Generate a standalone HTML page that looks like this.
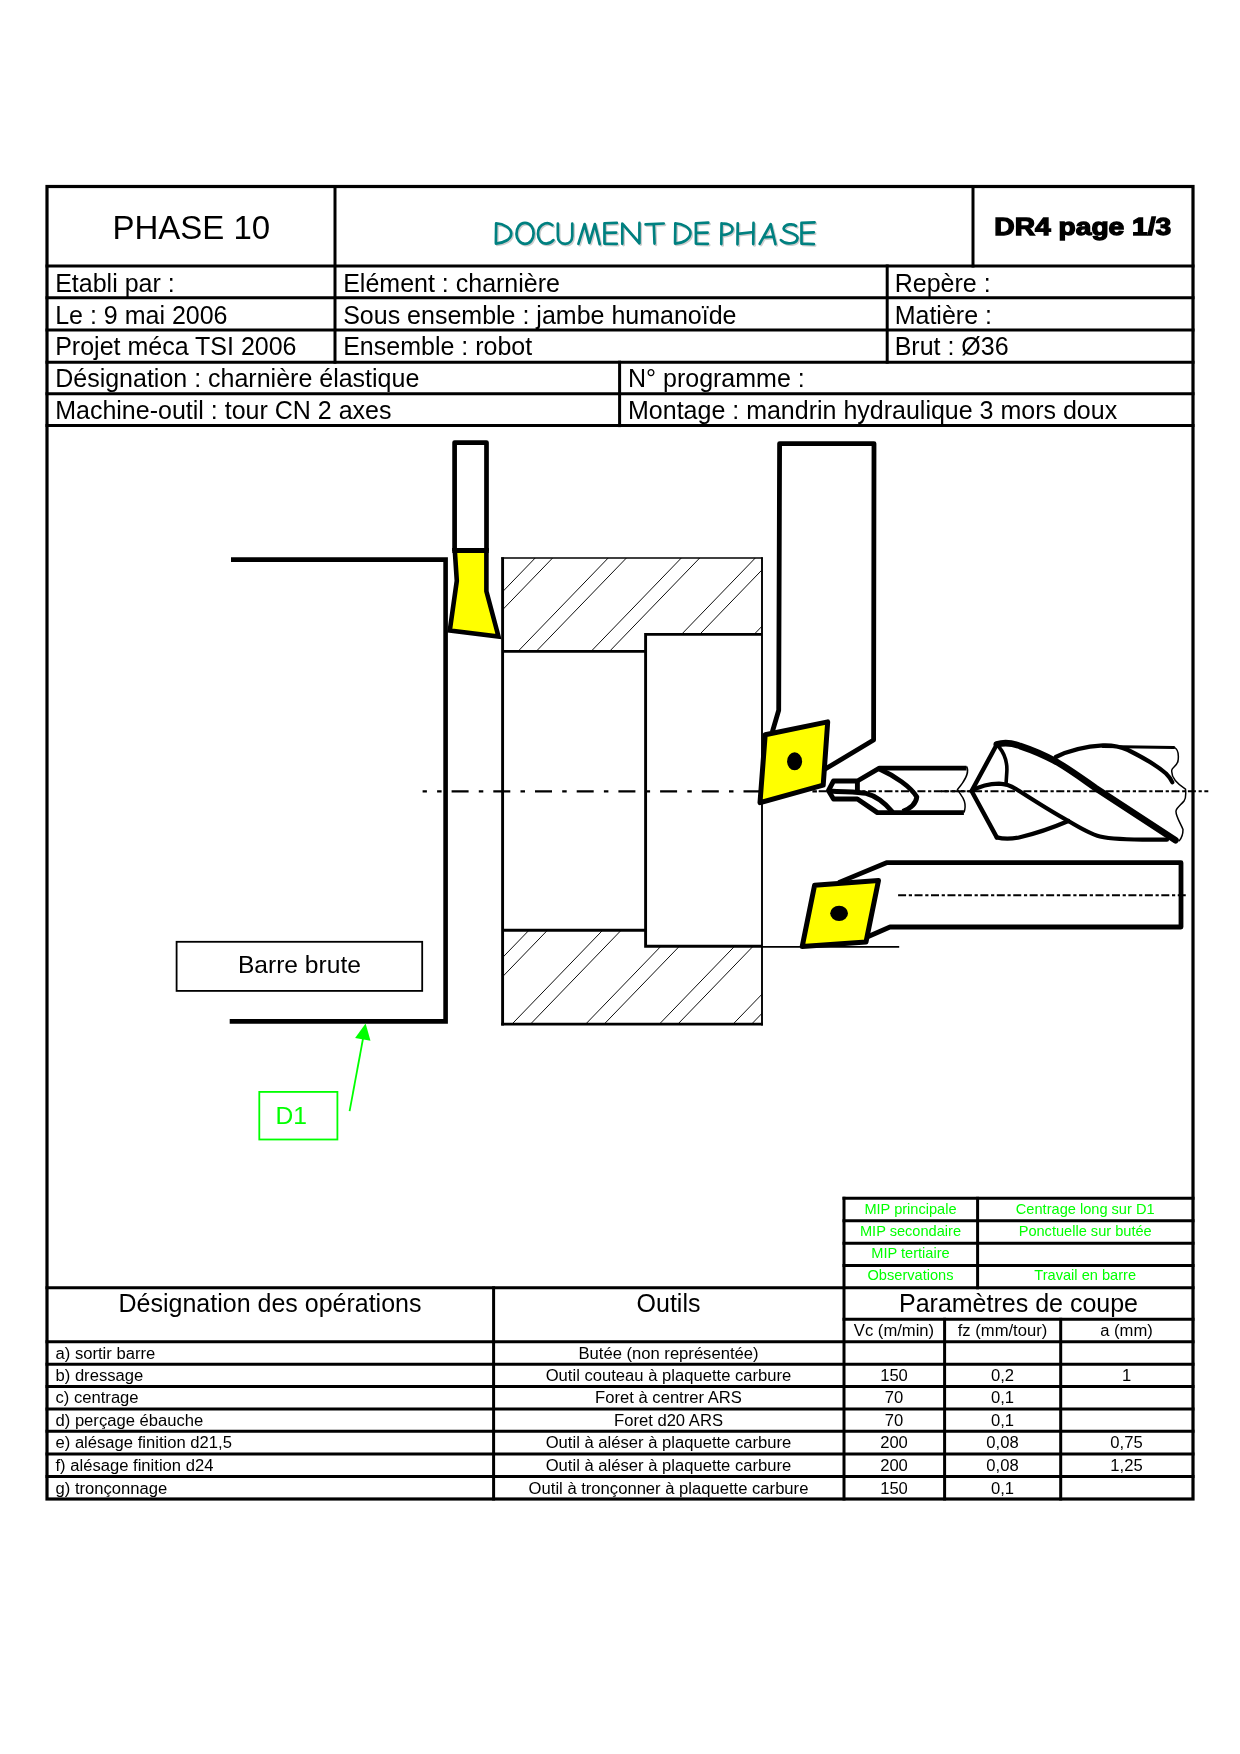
<!DOCTYPE html>
<html><head><meta charset="utf-8"><title>Document de phase</title>
<style>
html,body{margin:0;padding:0;background:#fff;}
body{width:1240px;height:1754px;overflow:hidden;font-family:"Liberation Sans",sans-serif;}
svg{will-change:transform;display:block;position:absolute;left:0;top:0;}
text{font-family:"Liberation Sans",sans-serif;}
</style></head><body>
<svg width="1240" height="1754" viewBox="0 0 1240 1754">
<rect x="0" y="0" width="1240" height="1754" fill="#ffffff"/>

<g id="frame" stroke-linecap="square">
<rect x="47.0" y="186.5" width="1146.0" height="1312.5" fill="none" stroke="#000" stroke-width="3.2"/>
<line x1="47.0" y1="266" x2="1193.0" y2="266" stroke="#000" stroke-width="3" />
<line x1="47.0" y1="297.8" x2="1193.0" y2="297.8" stroke="#000" stroke-width="3" />
<line x1="47.0" y1="330" x2="1193.0" y2="330" stroke="#000" stroke-width="3" />
<line x1="47.0" y1="362.2" x2="1193.0" y2="362.2" stroke="#000" stroke-width="3" />
<line x1="47.0" y1="393.8" x2="1193.0" y2="393.8" stroke="#000" stroke-width="3" />
<line x1="47.0" y1="425.6" x2="1193.0" y2="425.6" stroke="#000" stroke-width="3" />
<line x1="335" y1="186.5" x2="335" y2="362.2" stroke="#000" stroke-width="3" />
<line x1="973" y1="186.5" x2="973" y2="266" stroke="#000" stroke-width="3" />
<line x1="887.2" y1="266" x2="887.2" y2="362.2" stroke="#000" stroke-width="3" />
<line x1="619.6" y1="362.2" x2="619.6" y2="425.6" stroke="#000" stroke-width="3" />
<line x1="844" y1="1198.3" x2="1193.0" y2="1198.3" stroke="#000" stroke-width="3" />
<line x1="844" y1="1220.8" x2="1193.0" y2="1220.8" stroke="#000" stroke-width="3" />
<line x1="844" y1="1243.3" x2="1193.0" y2="1243.3" stroke="#000" stroke-width="3" />
<line x1="844" y1="1265.4" x2="1193.0" y2="1265.4" stroke="#000" stroke-width="3" />
<line x1="844" y1="1198.3" x2="844" y2="1499.0" stroke="#000" stroke-width="3" />
<line x1="977.6" y1="1198.3" x2="977.6" y2="1287.8" stroke="#000" stroke-width="3" />
<line x1="47.0" y1="1287.8" x2="1193.0" y2="1287.8" stroke="#000" stroke-width="3" />
<line x1="844" y1="1319.3" x2="1193.0" y2="1319.3" stroke="#000" stroke-width="3" />
<line x1="47.0" y1="1341.8" x2="1193.0" y2="1341.8" stroke="#000" stroke-width="3" />
<line x1="47.0" y1="1364.2" x2="1193.0" y2="1364.2" stroke="#000" stroke-width="3" />
<line x1="47.0" y1="1386.5" x2="1193.0" y2="1386.5" stroke="#000" stroke-width="3" />
<line x1="47.0" y1="1408.9" x2="1193.0" y2="1408.9" stroke="#000" stroke-width="3" />
<line x1="47.0" y1="1431.3" x2="1193.0" y2="1431.3" stroke="#000" stroke-width="3" />
<line x1="47.0" y1="1453.9" x2="1193.0" y2="1453.9" stroke="#000" stroke-width="3" />
<line x1="47.0" y1="1476.5" x2="1193.0" y2="1476.5" stroke="#000" stroke-width="3" />
<line x1="493.6" y1="1287.8" x2="493.6" y2="1499.0" stroke="#000" stroke-width="3" />
<line x1="944.6" y1="1319.3" x2="944.6" y2="1499.0" stroke="#000" stroke-width="3" />
<line x1="1060.7" y1="1319.3" x2="1060.7" y2="1499.0" stroke="#000" stroke-width="3" />
</g>
<g id="hdrtext">
<text x="191.3" y="239.2" font-size="33" text-anchor="middle" fill="#000" >PHASE 10</text>
<g fill="none" stroke="#cccccc" stroke-width="19.69" stroke-linecap="round" stroke-linejoin="round">
<path transform="translate(491.3,213.3) scale(0.13710)" d="M45,82 L43,226 M45,82 C 100,86 155,118 155,156 C 155,198 100,228 43,230 M255,80 C 215,80 193,120 193,160 C 193,200 220,232 255,232 C 295,232 318,195 318,155 C 318,115 295,80 255,80 Z M455,97 C 440,82 420,78 400,84 C 370,95 350,125 350,160 C 350,200 375,230 410,230 C 430,230 450,220 462,205 M495,85 L495,175 C 495,210 515,232 548,232 C 580,232 600,210 600,175 L600,85 M645,232 L690,88 L725,225 L765,88 L800,234 M925,80 L835,82 L835,230 L925,232 M835,152 L920,150 M965,232 L965,85 L1090,228 L1090,80 M1135,90 L1267,84 M1195,90 L1200,230"/>
<path transform="translate(651.3,213.3) scale(0.13710)" d="M185,82 L183,226 M185,82 C 240,86 295,116 295,154 C 295,196 242,228 183,230 M425,78 L335,82 L335,230 L422,232 M335,152 L420,150 M522,82 L520,234 M522,86 C 560,80 602,95 602,125 C 602,150 565,165 522,168 M640,82 L638,236 M755,80 L753,234 M640,160 L755,146 M800,232 L880,88 L915,234 M828,186 L897,180 M1065,102 C 1045,82 985,86 975,120 C 970,152 1076,148 1076,190 C 1072,234 990,242 955,205 M1200,76 L1105,80 L1105,230 L1195,234 M1105,152 L1195,148"/>
</g>
<g fill="none" stroke="#008080" stroke-width="19.69" stroke-linecap="round" stroke-linejoin="round">
<path transform="translate(490,212) scale(0.13710)" d="M45,82 L43,226 M45,82 C 100,86 155,118 155,156 C 155,198 100,228 43,230 M255,80 C 215,80 193,120 193,160 C 193,200 220,232 255,232 C 295,232 318,195 318,155 C 318,115 295,80 255,80 Z M455,97 C 440,82 420,78 400,84 C 370,95 350,125 350,160 C 350,200 375,230 410,230 C 430,230 450,220 462,205 M495,85 L495,175 C 495,210 515,232 548,232 C 580,232 600,210 600,175 L600,85 M645,232 L690,88 L725,225 L765,88 L800,234 M925,80 L835,82 L835,230 L925,232 M835,152 L920,150 M965,232 L965,85 L1090,228 L1090,80 M1135,90 L1267,84 M1195,90 L1200,230"/>
<path transform="translate(650,212) scale(0.13710)" d="M185,82 L183,226 M185,82 C 240,86 295,116 295,154 C 295,196 242,228 183,230 M425,78 L335,82 L335,230 L422,232 M335,152 L420,150 M522,82 L520,234 M522,86 C 560,80 602,95 602,125 C 602,150 565,165 522,168 M640,82 L638,236 M755,80 L753,234 M640,160 L755,146 M800,232 L880,88 L915,234 M828,186 L897,180 M1065,102 C 1045,82 985,86 975,120 C 970,152 1076,148 1076,190 C 1072,234 990,242 955,205 M1200,76 L1105,80 L1105,230 L1195,234 M1105,152 L1195,148"/>
</g>
<text x="994.3" y="235" font-size="24.2" font-weight="bold" fill="#000" stroke="#000" stroke-width="1.3" textLength="177" lengthAdjust="spacingAndGlyphs">DR4 page 1/3</text>
<text x="55.2" y="291.6" font-size="25.0" text-anchor="start" fill="#000" >Etabli par :</text>
<text x="55.2" y="323.6" font-size="25.0" text-anchor="start" fill="#000" >Le : 9 mai 2006</text>
<text x="55.2" y="355.4" font-size="25.0" text-anchor="start" fill="#000" >Projet méca TSI 2006</text>
<text x="55.2" y="387.4" font-size="25.0" text-anchor="start" fill="#000" >Désignation : charnière élastique</text>
<text x="55.2" y="419.3" font-size="25.0" text-anchor="start" fill="#000" >Machine-outil : tour CN 2 axes</text>
<text x="343.2" y="291.6" font-size="25.0" text-anchor="start" fill="#000" >Elément : charnière</text>
<text x="343.2" y="323.6" font-size="25.0" text-anchor="start" fill="#000" >Sous ensemble : jambe humanoïde</text>
<text x="343.2" y="355.4" font-size="25.0" text-anchor="start" fill="#000" >Ensemble : robot</text>
<text x="894.7" y="291.6" font-size="25.0" text-anchor="start" fill="#000" >Repère :</text>
<text x="894.7" y="323.6" font-size="25.0" text-anchor="start" fill="#000" >Matière :</text>
<text x="894.7" y="355.4" font-size="25.0" text-anchor="start" fill="#000" >Brut : Ø36</text>
<text x="628" y="387.4" font-size="25.0" text-anchor="start" fill="#000" >N° programme :</text>
<text x="628" y="419.3" font-size="25.0" text-anchor="start" fill="#000" >Montage : mandrin hydraulique 3 mors doux</text>
</g>
<g id="drawing" fill="none" stroke="#000" stroke-linejoin="miter" stroke-linecap="butt">
<polyline points="231,559.6 445.6,559.6 445.6,1021.4 229.7,1021.4" stroke-width="4.6"/>
<defs><clipPath id="cTop"><polygon points="502.5,558 762,558 762,634.4 645.7,634.4 645.7,651.3 502.5,651.3"/></clipPath>
<clipPath id="cBot"><polygon points="502.5,930.3 645.7,930.3 645.7,945.8 762,945.8 762,1024.4 502.5,1024.4"/></clipPath></defs>
<g clip-path="url(#cTop)" stroke-width="0.95" stroke="#000">
<line x1="544.8618357487924" y1="548" x2="428.91980676328507" y2="668"/>
<line x1="562.2618357487922" y1="548" x2="446.31980676328504" y2="668"/>
<line x1="617.8618357487924" y1="548" x2="501.91980676328507" y2="668"/>
<line x1="636.0618357487922" y1="548" x2="520.1198067632849" y2="668"/>
<line x1="690.9618357487923" y1="548" x2="575.019806763285" y2="668"/>
<line x1="709.3618357487924" y1="548" x2="593.4198067632851" y2="668"/>
<line x1="764.9618357487923" y1="548" x2="649.019806763285" y2="668"/>
<line x1="783.1618357487923" y1="548" x2="667.2198067632851" y2="668"/>
<line x1="837.5618357487922" y1="548" x2="721.6198067632849" y2="668"/>
<line x1="855.6618357487923" y1="548" x2="739.7198067632851" y2="668"/>
</g>
<g clip-path="url(#cBot)" stroke-width="0.95" stroke="#000">
<line x1="428.33816425120773" y1="1034.4" x2="544.2801932367149" y2="914.4000000000001"/>
<line x1="446.83816425120773" y1="1034.4" x2="562.7801932367149" y2="914.4000000000001"/>
<line x1="502.0381642512077" y1="1034.4" x2="617.980193236715" y2="914.4000000000001"/>
<line x1="520.5381642512077" y1="1034.4" x2="636.480193236715" y2="914.4000000000001"/>
<line x1="575.7381642512078" y1="1034.4" x2="691.680193236715" y2="914.4000000000001"/>
<line x1="594.2381642512078" y1="1034.4" x2="710.180193236715" y2="914.4000000000001"/>
<line x1="649.4381642512078" y1="1034.4" x2="765.3801932367151" y2="914.4000000000001"/>
<line x1="667.9381642512078" y1="1034.4" x2="783.8801932367151" y2="914.4000000000001"/>
<line x1="723.1381642512076" y1="1034.4" x2="839.0801932367149" y2="914.4000000000001"/>
<line x1="741.6381642512076" y1="1034.4" x2="857.5801932367149" y2="914.4000000000001"/>
</g>
<line x1="502.6" y1="557.2" x2="502.6" y2="1025.5" stroke="#000" stroke-width="2.9" />
<line x1="501.2" y1="558" x2="762.7" y2="558" stroke="#000" stroke-width="1.6" />
<line x1="762" y1="557.2" x2="762" y2="1025.5" stroke="#000" stroke-width="1.9" />
<line x1="501.2" y1="1024.2" x2="762.9" y2="1024.2" stroke="#000" stroke-width="2.8" />
<polyline points="502.5,651.4 645.6,651.4" stroke-width="2.9"/>
<polyline points="762,634.4 645.6,634.4 645.6,946.2 762,946.2" stroke-width="2.9" stroke-linejoin="miter"/>
<line x1="502.5" y1="930.3" x2="647" y2="930.3" stroke="#000" stroke-width="2.9" />
<line x1="762" y1="946.8" x2="899.2" y2="946.8" stroke="#000" stroke-width="1.7" />
<line x1="422.6" y1="791.3" x2="845" y2="791.3" stroke-width="2.2" stroke-dasharray="17 10.2 4.5 10" stroke-dashoffset="12.7"/>
<line x1="818.7" y1="791.3" x2="975" y2="791.3" stroke-width="2" stroke-dasharray="8 2.7 3.2 2.55"/>
<line x1="941.15" y1="791.3" x2="1208.3" y2="791.3" stroke-width="2" stroke-dasharray="8 2.7 3.2 2.55"/>
<polyline points="454.6,551 454.6,442.6 486.5,442.6 486.5,551" stroke-width="4.7" stroke-linejoin="round"/>
<polygon points="454.8,550.4 456.8,580.8 449.8,630.5 498.5,636.5 486.4,591.3 486.4,550.4" fill="#ffff00" stroke-width="4.6"/>
<line x1="452.3" y1="550.4" x2="488.8" y2="550.4" stroke="#000" stroke-width="5" />
<polyline points="772.3,732 778.7,710.3 779.6,443.6 874,443.6 873.6,740 824,769.8" stroke-width="4.8" stroke-linejoin="round"/>
<polygon points="765.2,734.8 827.7,721.9 823.2,785.2 760,802.6" fill="#ffff00" stroke-width="5" stroke-linejoin="round"/>
<ellipse cx="794.6" cy="761.3" rx="7.5" ry="9" fill="#000" stroke="none"/>
<polyline points="838.5,882.6 886.5,862.7 1181,862.7 1181,927 890,927 866,937.5" stroke-width="4.8" stroke-linejoin="round"/>
<polygon points="814.6,885.2 878.5,880.5 866,942 802.2,946.5" fill="#ffff00" stroke-width="5" stroke-linejoin="round"/>
<ellipse cx="839.1" cy="913.3" rx="8.9" ry="7.6" fill="#000" stroke="none"/>
<line x1="898.1" y1="895.2" x2="1186" y2="895.2" stroke-width="2" stroke-dasharray="8 2.7 3.2 2.55"/>
<g stroke-width="4.9" stroke-linejoin="round">
<polyline points="966.5,768.1 879.4,768.1 857.4,781 833.5,781 828.4,790.6 833.5,799 857.4,799 877.4,812.6 963.9,812.6"/>
<line x1="857.4" y1="781" x2="857.4" y2="792"/>
<path d="M879.4,769 C 895,776 911,787 916.8,797 C 916,804 909,809 902.6,811.5"/>
<path d="M830,791 C 845,792 858,792 866,793.4 C 876,796 885,803 892.5,812"/>
</g>
<path d="M966.5,766.5 C 970,772 964,782 957.5,789.5 C 960,795 968,800 964,812.6" stroke-width="1.5"/>
<g stroke-linejoin="round" stroke-linecap="round">
<polyline points="996.8,744.5 971.6,791 996.8,837.4" stroke-width="4.4"/>
<path d="M996.8,744.5 C 1003,742.5 1012,743 1020,746 C 1035,751 1046,756 1056.8,762 C 1072,771 1084,780 1095.5,788 L 1175.5,840.2" stroke-width="6.6"/>
<path d="M998.7,746.5 C 1004,753 1007.5,762 1006.8,772 L 1006,784.5" stroke-width="3.6"/>
<path d="M971.6,791 C 980,786 990,783.6 999,783.6 C 1007,783.8 1012,786.5 1016,789 C 1030,798 1050,811 1068.4,821 C 1080,828 1090,834 1100,836.5 C 1115,840 1140,840 1167,839.6" stroke-width="4.2"/>
<path d="M996.8,837.4 C 1003,839 1012,839 1020,837.2 C 1036,833.5 1052,828 1068.4,821" stroke-width="4.2"/>
<path d="M1055.8,757 C 1068,751 1085,746.5 1103,745.4 C 1113,745 1121,747 1128,750 C 1142,757 1158,766.5 1166,773.5 C 1169,776.5 1171,779 1172.3,782.3" stroke-width="4.2"/>
<line x1="1103" y1="746.6" x2="1173.9" y2="747.4" stroke-width="3"/>
<path d="M1173.9,747.4 C 1178,749 1179,754 1178,761 C 1177,766 1172,767.5 1171.8,770 C 1171,776 1176,783 1185.5,789.1 C 1186,794 1186,798 1184.2,800.7 C 1181,805 1176.5,807.5 1176,811 C 1175.5,816 1181,824 1183,829.5 C 1183,834 1181.5,838 1179.4,840.6" stroke-width="1.5"/>
</g>
</g>
<rect x="176.6" y="941.8" width="245.6" height="49.1" fill="none" stroke="#000" stroke-width="1.8"/>
<text x="299.4" y="972.6" font-size="24.6" text-anchor="middle" fill="#000" >Barre brute</text>
<rect x="259.3" y="1091.9" width="78.1" height="47.6" fill="none" stroke="#00ff00" stroke-width="1.8"/>
<text x="275.4" y="1123.6" font-size="24.6" text-anchor="start" fill="#00ff00" >D1</text>
<line x1="349.6" y1="1111.1" x2="363.5" y2="1036" stroke="#00ff00" stroke-width="1.8"/>
<polygon points="365.6,1023.4 355.1,1037.9 370.5,1040.8" fill="#00ff00"/>
<text x="910.5" y="1214" font-size="14.6" text-anchor="middle" fill="#00ff00" >MIP principale</text>
<text x="910.5" y="1236" font-size="14.6" text-anchor="middle" fill="#00ff00" >MIP secondaire</text>
<text x="910.5" y="1258" font-size="14.6" text-anchor="middle" fill="#00ff00" >MIP tertiaire</text>
<text x="910.5" y="1280" font-size="14.6" text-anchor="middle" fill="#00ff00" >Observations</text>
<text x="1085.2" y="1214" font-size="14.6" text-anchor="middle" fill="#00ff00" >Centrage long sur D1</text>
<text x="1085.2" y="1236" font-size="14.6" text-anchor="middle" fill="#00ff00" >Ponctuelle sur butée</text>
<text x="1085.2" y="1280" font-size="14.6" text-anchor="middle" fill="#00ff00" >Travail en barre</text>
<text x="270" y="1311.7" font-size="25" text-anchor="middle" fill="#000" >Désignation des opérations</text>
<text x="668.5" y="1311.7" font-size="25" text-anchor="middle" fill="#000" >Outils</text>
<text x="1018.5" y="1311.7" font-size="25" text-anchor="middle" fill="#000" >Paramètres de coupe</text>
<text x="894" y="1336" font-size="16.62" text-anchor="middle" fill="#000" >Vc (m/min)</text>
<text x="1002.5" y="1336" font-size="16.62" text-anchor="middle" fill="#000" >fz (mm/tour)</text>
<text x="1126.5" y="1336" font-size="16.62" text-anchor="middle" fill="#000" >a (mm)</text>
<text x="55.5" y="1358.9" font-size="16.62" text-anchor="start" fill="#000" >a) sortir barre</text>
<text x="668.5" y="1358.9" font-size="16.62" text-anchor="middle" fill="#000" >Butée (non représentée)</text>
<text x="55.5" y="1381" font-size="16.62" text-anchor="start" fill="#000" >b) dressage</text>
<text x="668.5" y="1381" font-size="16.62" text-anchor="middle" fill="#000" >Outil couteau à plaquette carbure</text>
<text x="894" y="1381" font-size="16.62" text-anchor="middle" fill="#000" >150</text>
<text x="1002.5" y="1381" font-size="16.62" text-anchor="middle" fill="#000" >0,2</text>
<text x="1126.5" y="1381" font-size="16.62" text-anchor="middle" fill="#000" >1</text>
<text x="55.5" y="1403.2" font-size="16.62" text-anchor="start" fill="#000" >c) centrage</text>
<text x="668.5" y="1403.2" font-size="16.62" text-anchor="middle" fill="#000" >Foret à centrer ARS</text>
<text x="894" y="1403.2" font-size="16.62" text-anchor="middle" fill="#000" >70</text>
<text x="1002.5" y="1403.2" font-size="16.62" text-anchor="middle" fill="#000" >0,1</text>
<text x="55.5" y="1425.7" font-size="16.62" text-anchor="start" fill="#000" >d) perçage ébauche</text>
<text x="668.5" y="1425.7" font-size="16.62" text-anchor="middle" fill="#000" >Foret d20 ARS</text>
<text x="894" y="1425.7" font-size="16.62" text-anchor="middle" fill="#000" >70</text>
<text x="1002.5" y="1425.7" font-size="16.62" text-anchor="middle" fill="#000" >0,1</text>
<text x="55.5" y="1448.1" font-size="16.62" text-anchor="start" fill="#000" >e) alésage finition d21,5</text>
<text x="668.5" y="1448.1" font-size="16.62" text-anchor="middle" fill="#000" >Outil à aléser à plaquette carbure</text>
<text x="894" y="1448.1" font-size="16.62" text-anchor="middle" fill="#000" >200</text>
<text x="1002.5" y="1448.1" font-size="16.62" text-anchor="middle" fill="#000" >0,08</text>
<text x="1126.5" y="1448.1" font-size="16.62" text-anchor="middle" fill="#000" >0,75</text>
<text x="55.5" y="1471" font-size="16.62" text-anchor="start" fill="#000" >f) alésage finition d24</text>
<text x="668.5" y="1471" font-size="16.62" text-anchor="middle" fill="#000" >Outil à aléser à plaquette carbure</text>
<text x="894" y="1471" font-size="16.62" text-anchor="middle" fill="#000" >200</text>
<text x="1002.5" y="1471" font-size="16.62" text-anchor="middle" fill="#000" >0,08</text>
<text x="1126.5" y="1471" font-size="16.62" text-anchor="middle" fill="#000" >1,25</text>
<text x="55.5" y="1493.7" font-size="16.62" text-anchor="start" fill="#000" >g) tronçonnage</text>
<text x="668.5" y="1493.7" font-size="16.62" text-anchor="middle" fill="#000" >Outil à tronçonner à plaquette carbure</text>
<text x="894" y="1493.7" font-size="16.62" text-anchor="middle" fill="#000" >150</text>
<text x="1002.5" y="1493.7" font-size="16.62" text-anchor="middle" fill="#000" >0,1</text>
</svg></body></html>
